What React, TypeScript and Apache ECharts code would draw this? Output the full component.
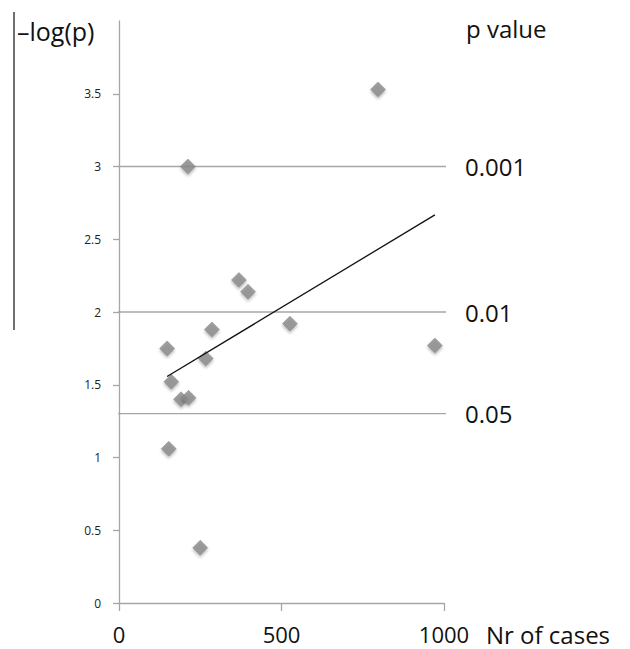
import React, { useEffect, useRef } from "react";
import * as echarts from "echarts";

// Nr of cases (x) and -log(p) (y) per study
const casesValues = [797, 212, 369, 397, 286, 526, 972, 148, 267, 161, 191, 214, 153, 250];
const logPValues = [3.53, 3.0, 2.22, 2.14, 1.88, 1.92, 1.77, 1.75, 1.68, 1.52, 1.40, 1.41, 1.06, 0.38];
const pThresholds = [0.001, 0.01, 0.05];
const pLabels = ["0.001", "0.01", "0.05"];
const yTickValues = [0, 0.5, 1, 1.5, 2, 2.5, 3, 3.5];
const xTickValues = [0, 500, 1000];

const FONT = "'Open Sans', sans-serif";

function linearFit(xs: number[], ys: number[]) {
  const n = xs.length;
  const mx = xs.reduce((a, b) => a + b, 0) / n;
  const my = ys.reduce((a, b) => a + b, 0) / n;
  let sxy = 0;
  let sxx = 0;
  for (let i = 0; i < n; i++) {
    sxy += (xs[i] - mx) * (ys[i] - my);
    sxx += (xs[i] - mx) * (xs[i] - mx);
  }
  const slope = sxy / sxx;
  return { slope, intercept: my - slope * mx };
}

export default function App() {
  const ref = useRef<HTMLDivElement>(null);
  useEffect(() => {
    if (!ref.current) return;
    const chart = echarts.init(ref.current, undefined, { renderer: "svg" });
    const points = casesValues.map((x, i) => [x, logPValues[i]]);
    const fit = linearFit(casesValues, logPValues);
    const xMin = Math.min(...casesValues);
    const xMax = Math.max(...casesValues);
    const trend = [
      [xMin, fit.intercept + fit.slope * xMin],
      [xMax, fit.intercept + fit.slope * xMax],
    ];
    const thresholdSeries = pThresholds.map((p, i) => {
      const y = -Math.log10(p);
      return {
        type: "line",
        data: [
          [-18, y],
          [1032, y],
        ],
        clip: false,
        symbol: "none",
        silent: true,
        lineStyle: { color: "#a6a6a6", width: 1.3 },
        endLabel: {
          show: true,
          formatter: pLabels[i],
          distance: 19,
          color: "#111",
          fontSize: 24,
          fontFamily: FONT,
        },
        z: 1,
      };
    });
    chart.setOption({
      animation: false,
      backgroundColor: "#ffffff",
      grid: { left: 119, top: 21, right: 186, bottom: 46, containLabel: false, outerBoundsMode: "none" },
      xAxis: {
        type: "value",
        min: 0,
        max: 1000,
        interval: 500,
        name: "Nr of cases",
        nameLocation: "end",
        nameGap: 42,
        nameTextStyle: {
          fontFamily: FONT,
          fontSize: 24,
          color: "#111",
          verticalAlign: "top",
          padding: [19, 0, 0, 0],
        },
        axisLine: { show: true, lineStyle: { color: "#a6a6a6", width: 1.3 } },
        axisTick: { show: true, length: 8, lineStyle: { color: "#a6a6a6", width: 1.3 }, customValues: xTickValues },
        axisLabel: {
          fontFamily: FONT,
          fontSize: 22,
          color: "#111",
          margin: 20,
          customValues: xTickValues,
          formatter: (v: number) => String(v),
        },
        splitLine: { show: false },
      },
      yAxis: {
        type: "value",
        min: 0,
        max: 4,
        interval: 0.5,
        axisLine: { show: true, lineStyle: { color: "#a6a6a6", width: 1.3 } },
        axisTick: { show: true, length: 6, lineStyle: { color: "#a6a6a6", width: 1.3 }, customValues: yTickValues },
        axisLabel: {
          fontFamily: FONT,
          fontSize: 12,
          color: "#222",
          margin: 18,
          customValues: yTickValues,
        },
        splitLine: { show: false },
      },
      graphic: [
        {
          type: "line",
          shape: { x1: 14, y1: 12, x2: 14, y2: 330 },
          style: { stroke: "#111", lineWidth: 1.2 },
        },
        {
          type: "text",
          x: 17,
          y: 31,
          style: {
            text: "\u2013log(p)",
            fontFamily: FONT,
            fontSize: 25,
            fill: "#111",
            textVerticalAlign: "middle",
          },
        },
        {
          type: "text",
          x: 466,
          y: 28,
          style: {
            text: "p value",
            fontFamily: FONT,
            fontSize: 24,
            fill: "#111",
            textVerticalAlign: "middle",
          },
        },
      ],
      series: [
        ...thresholdSeries,
        {
          type: "scatter",
          data: points,
          symbol: "diamond",
          symbolSize: 15,
          itemStyle: {
            color: "#8a8a8a",
            borderColor: "#7a7a7a",
            borderWidth: 0.5,
            shadowBlur: 3,
            shadowColor: "rgba(0,0,0,0.35)",
            shadowOffsetY: 2,
          },
          z: 3,
        },
        {
          type: "line",
          data: trend,
          symbol: "none",
          silent: true,
          lineStyle: { color: "#111", width: 1.3 },
          z: 4,
        },
      ],
    });
    return () => chart.dispose();
  }, []);
  return (
    <div
      ref={ref}
      style={{ position: "fixed", left: 0, top: 0, width: 630, height: 649, background: "#fff" }}
    />
  );
}
